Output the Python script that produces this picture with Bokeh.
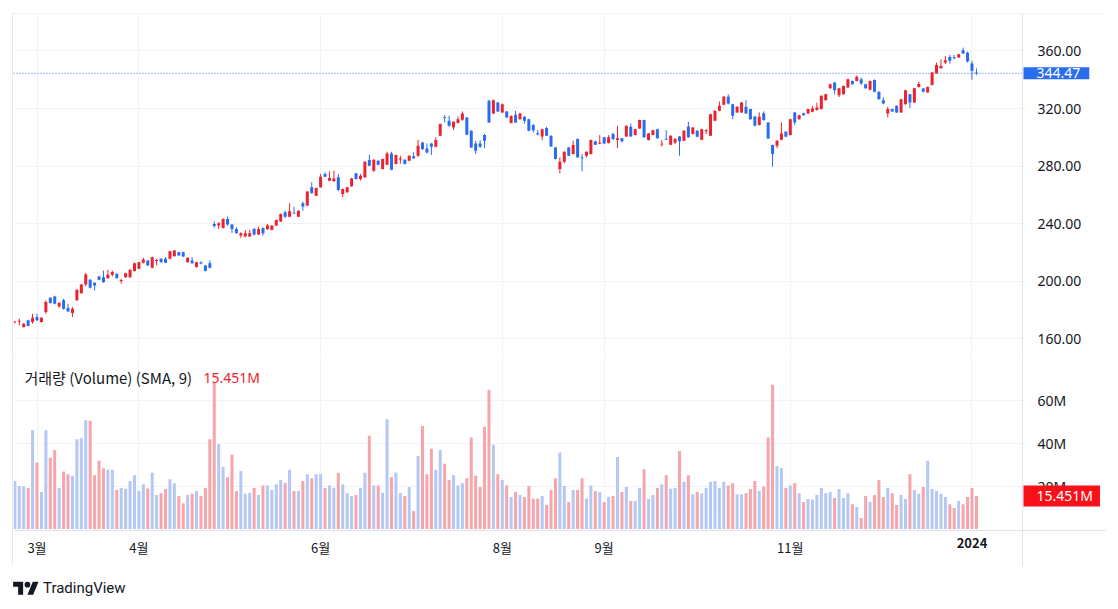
from bokeh.plotting import figure
from bokeh.models import (ColumnDataSource, FixedTicker, Range1d, Label, Span, Spacer, Div,
                          NumeralTickFormatter, PrintfTickFormatter, BoxAnnotation, LinearAxis)
from bokeh.layouts import column, row
from bokeh.embed import file_html
from bokeh.resources import INLINE

# ---------------- data (daily candles, Feb 22 2023 .. Jan 3 2024) ----------------
opens = [
    171.4, 172.2, 168.3, 172.9, 171.7, 175.2, 171.7, 178.7, 188.6, 189.5,
    182.6, 186.8, 181.4, 178.0, 186.8, 191.8, 197.8, 201.1, 199.0, 203.4,
    202.9, 202.2, 204.5, 205.2, 200.4, 202.9, 202.9, 207.1, 208.7, 212.9,
    214.5, 209.4, 214.3, 215.6, 215.6, 215.6, 217.5, 220.2, 220.2, 213.3,
    214.5, 209.9, 213.3, 211.0, 212.6, 239.8, 238.7, 237.1, 243.3, 239.4,
    236.4, 231.8, 231.1, 231.1, 236.4, 232.5, 237.1, 236.4, 235.7, 238.7,
    241.5, 248.0, 244.9, 247.5, 244.9, 254.2, 252.6, 265.3, 259.5, 265.3,
    274.5, 269.9, 269.5, 272.2, 260.7, 261.8, 266.0, 275.0, 271.1, 272.2,
    284.2, 276.8, 283.8, 278.0, 281.0, 288.8, 281.5, 284.8, 284.5, 283.8,
    286.8, 287.2, 296.5, 292.3, 295.8, 293.5, 301.1, 313.9, 311.5, 306.9,
    309.9, 312.2, 313.8, 304.6, 295.8, 295.8, 301.6, 325.4, 316.6, 324.2,
    317.3, 318.0, 310.0, 315.6, 312.6, 314.3, 312.6, 308.5, 302.8, 300.6,
    306.4, 301.1, 293.0, 278.0, 283.1, 293.0, 288.4, 298.8, 285.9, 287.2,
    288.4, 297.2, 295.5, 300.0, 296.0, 302.3, 298.1, 299.3, 300.6, 307.3,
    301.6, 306.2, 312.0, 298.1, 301.6, 305.7, 295.0, 298.8, 294.9, 296.5,
    300.6, 297.6, 307.6, 302.3, 304.6, 298.3, 304.4, 301.1, 311.5, 318.4,
    322.6, 328.1, 323.0, 317.3, 317.3, 321.2, 319.6, 314.5, 308.5, 316.8,
    310.3, 294.6, 294.2, 298.3, 303.9, 301.6, 317.3, 312.6, 316.8, 316.6,
    317.7, 318.9, 319.6, 325.8, 334.1, 338.0, 329.3, 330.0, 334.6, 339.2,
    339.2, 340.4, 336.9, 333.0, 339.9, 331.6, 325.8, 316.6, 319.6, 321.9,
    317.3, 323.0, 330.0, 324.2, 335.0, 333.9, 331.1, 336.4, 344.5, 348.0,
    351.9, 355.8, 355.4, 355.4, 360.5, 358.8, 351.3, 344.98,
]
highs = [
    172.5, 174.0, 171.0, 173.3, 177.5, 177.5, 175.0, 186.8, 189.0, 190.0,
    185.4, 187.9, 184.4, 182.1, 194.5, 198.2, 205.9, 201.5, 199.4, 203.8,
    207.5, 208.0, 207.5, 205.5, 201.8, 206.0, 208.4, 213.0, 213.6, 216.3,
    214.8, 217.1, 215.6, 216.0, 216.8, 221.2, 221.7, 220.5, 220.6, 216.6,
    216.8, 213.6, 213.8, 211.3, 214.5, 241.7, 241.0, 243.8, 244.9, 239.8,
    237.6, 234.1, 235.7, 235.7, 237.1, 238.0, 237.4, 239.9, 239.0, 242.9,
    247.1, 249.1, 254.2, 251.9, 249.4, 255.4, 262.6, 268.8, 265.1, 274.6,
    275.7, 276.4, 276.8, 274.5, 264.4, 265.6, 271.8, 275.3, 274.5, 283.4,
    287.9, 284.8, 284.1, 285.2, 290.0, 290.0, 288.0, 287.2, 284.8, 287.5,
    289.6, 298.1, 296.8, 295.8, 296.1, 300.0, 309.5, 315.6, 315.0, 311.1,
    314.5, 318.0, 314.1, 304.9, 297.6, 298.1, 302.3, 326.0, 326.2, 324.5,
    323.5, 318.3, 315.3, 318.4, 317.0, 314.6, 312.9, 309.2, 305.0, 306.0,
    307.3, 301.4, 293.3, 286.1, 290.3, 293.3, 297.6, 299.1, 288.4, 290.3,
    298.4, 297.5, 301.6, 300.3, 301.6, 303.4, 308.0, 299.6, 308.3, 309.6,
    306.0, 312.3, 312.3, 303.0, 305.3, 306.0, 298.1, 305.0, 301.4, 299.5,
    300.9, 304.9, 310.8, 307.2, 304.9, 306.0, 305.8, 316.4, 318.7, 324.9,
    328.8, 329.9, 323.3, 321.5, 324.5, 325.8, 319.9, 314.8, 317.3, 318.0,
    310.6, 294.9, 298.0, 310.3, 304.2, 312.9, 317.6, 315.7, 317.1, 319.9,
    321.9, 324.0, 329.1, 330.3, 337.2, 338.3, 334.4, 336.0, 340.7, 339.5,
    342.9, 341.5, 337.2, 339.5, 340.2, 331.9, 327.7, 321.2, 319.9, 322.2,
    326.8, 333.0, 330.3, 334.4, 338.7, 334.2, 335.3, 345.3, 351.9, 354.2,
    356.5, 357.2, 357.2, 358.0, 362.3, 359.5, 353.2, 347.9,
]
lows = [
    170.9, 169.4, 167.9, 168.8, 170.6, 172.4, 171.3, 177.5, 184.5, 184.0,
    181.7, 180.3, 179.0, 175.2, 186.5, 191.5, 196.5, 195.0, 193.7, 200.8,
    199.0, 201.8, 203.4, 202.0, 198.3, 202.5, 202.5, 206.8, 208.4, 212.4,
    210.7, 209.0, 211.0, 213.0, 212.7, 215.3, 217.3, 217.8, 216.9, 213.0,
    212.2, 209.6, 211.8, 206.9, 209.0, 237.1, 236.4, 236.8, 238.7, 233.6,
    233.1, 230.2, 230.6, 230.9, 231.8, 232.2, 231.8, 235.7, 235.4, 238.4,
    241.2, 244.0, 244.6, 246.8, 244.6, 249.1, 252.3, 260.7, 259.2, 265.0,
    272.4, 269.6, 269.2, 262.8, 258.5, 261.5, 265.7, 270.8, 270.0, 271.9,
    280.0, 276.0, 280.7, 277.7, 280.7, 277.2, 281.2, 281.7, 281.2, 283.5,
    285.1, 286.5, 291.2, 288.8, 287.7, 293.2, 300.8, 310.3, 307.3, 305.0,
    309.6, 311.5, 301.5, 292.7, 288.4, 292.6, 292.6, 310.0, 316.3, 317.7,
    317.0, 313.5, 309.6, 310.0, 312.3, 309.5, 304.3, 303.3, 301.3, 298.0,
    300.8, 293.4, 284.6, 275.0, 282.0, 286.9, 288.1, 285.8, 276.4, 286.1,
    288.1, 294.6, 295.2, 295.5, 295.7, 298.1, 292.6, 296.5, 300.3, 300.3,
    301.3, 305.9, 299.7, 297.8, 301.3, 299.0, 293.5, 298.3, 294.6, 295.3,
    287.2, 297.3, 299.7, 302.0, 300.1, 298.0, 302.2, 300.8, 311.2, 318.1,
    322.3, 322.8, 312.6, 317.0, 317.0, 316.3, 312.3, 307.7, 308.2, 311.5,
    298.9, 279.6, 292.5, 298.0, 300.1, 301.3, 308.5, 312.3, 315.1, 316.3,
    317.4, 318.6, 319.3, 325.5, 333.8, 329.9, 328.0, 329.7, 334.3, 336.6,
    338.9, 336.4, 333.8, 332.7, 331.3, 326.2, 323.0, 313.8, 317.7, 317.0,
    317.0, 322.7, 320.3, 323.9, 334.7, 331.3, 330.8, 336.1, 344.2, 347.7,
    350.8, 351.2, 354.2, 355.1, 357.9, 352.0, 340.0, 343.2,
]
closes = [
    171.9, 172.6, 170.6, 169.0, 174.7, 172.9, 174.7, 185.6, 184.9, 184.4,
    185.1, 181.0, 179.1, 181.0, 194.1, 197.8, 204.8, 195.5, 197.1, 201.1,
    199.4, 204.5, 206.4, 202.2, 200.8, 205.7, 208.0, 212.6, 213.3, 215.2,
    211.0, 216.8, 214.7, 213.3, 212.9, 220.9, 221.4, 218.0, 217.2, 216.3,
    212.6, 213.3, 212.3, 207.1, 209.4, 238.5, 240.3, 243.3, 239.4, 236.4,
    233.4, 233.4, 233.4, 233.4, 232.5, 236.4, 233.4, 238.7, 238.7, 242.6,
    246.8, 244.9, 248.7, 247.2, 249.1, 251.9, 262.3, 261.4, 264.8, 272.7,
    272.7, 271.8, 271.5, 263.4, 264.1, 265.3, 271.5, 271.1, 273.4, 283.1,
    280.3, 284.5, 281.0, 284.9, 288.8, 277.5, 287.7, 285.1, 281.5, 287.2,
    285.4, 294.2, 291.9, 289.5, 293.5, 298.1, 309.2, 313.5, 308.0, 310.8,
    312.6, 316.6, 301.8, 293.0, 290.7, 293.5, 297.6, 310.3, 325.8, 318.0,
    323.0, 313.8, 314.8, 310.3, 316.6, 311.5, 304.6, 305.0, 302.0, 305.7,
    301.1, 293.7, 284.9, 283.1, 290.0, 287.2, 294.6, 286.1, 285.6, 290.0,
    298.1, 294.9, 296.2, 295.8, 300.0, 298.8, 299.3, 297.2, 308.0, 300.6,
    305.7, 312.0, 300.0, 302.7, 305.0, 299.3, 295.5, 298.6, 301.1, 298.8,
    297.2, 304.6, 300.0, 306.9, 300.4, 305.7, 304.7, 316.1, 318.4, 321.9,
    328.1, 323.5, 315.0, 321.2, 324.2, 316.6, 312.6, 308.0, 314.3, 312.0,
    299.2, 288.4, 297.6, 302.7, 300.4, 312.6, 310.3, 315.4, 315.4, 319.6,
    320.0, 320.7, 328.8, 330.0, 336.9, 332.7, 334.1, 335.7, 340.4, 336.9,
    342.0, 337.4, 334.1, 339.2, 331.6, 326.5, 323.5, 319.6, 318.0, 317.3,
    326.5, 332.7, 324.2, 334.1, 337.0, 331.6, 335.0, 345.0, 350.3, 349.6,
    353.5, 353.1, 355.2, 357.7, 358.2, 352.6, 346.3, 344.47,
]
volumes_m = [
    22.4, 20.1, 19.8, 19.1, 46.1, 31.0, 17.3, 46.1, 33.3, 36.9,
    19.1, 26.8, 25.5, 24.8, 41.9, 42.4, 50.8, 50.5, 25.1, 31.8,
    28.4, 27.6, 27.6, 18.2, 19.1, 18.8, 22.4, 25.1, 17.7, 20.9,
    18.9, 26.2, 15.9, 16.7, 18.7, 23.2, 21.3, 15.4, 12.0, 15.9,
    16.4, 17.7, 15.4, 19.1, 41.9, 68.5, 39.6, 29.0, 24.1, 34.6,
    17.7, 27.1, 16.4, 16.8, 19.1, 15.9, 20.3, 20.3, 18.2, 20.9,
    22.9, 21.5, 27.6, 17.7, 17.7, 22.4, 25.5, 23.7, 25.5, 25.5,
    19.1, 20.3, 19.2, 26.2, 20.9, 16.8, 15.4, 15.9, 19.1, 26.2,
    43.5, 20.3, 20.3, 16.9, 51.2, 24.1, 26.2, 16.8, 15.4, 19.6,
    8.4, 34.1, 48.1, 25.5, 37.4, 27.6, 36.9, 30.4, 22.9, 25.1,
    20.3, 21.3, 23.7, 42.7, 24.8, 19.6, 47.7, 65.0, 39.3, 25.5,
    22.9, 20.3, 14.9, 17.3, 15.9, 14.9, 20.1, 14.2, 14.2, 15.4,
    11.2, 18.2, 23.7, 35.7, 20.1, 12.6, 18.2, 18.2, 23.7, 14.2,
    20.3, 17.7, 17.3, 12.6, 14.9, 15.4, 33.6, 17.3, 19.6, 13.1,
    13.1, 19.1, 27.9, 14.0, 15.9, 19.1, 20.9, 25.1, 18.8, 19.1,
    36.4, 22.1, 25.1, 16.2, 17.3, 16.7, 19.1, 22.1, 22.4, 19.1,
    22.1, 20.3, 21.3, 16.2, 16.2, 16.7, 18.7, 22.4, 17.7, 19.8,
    42.7, 67.3, 29.4, 28.5, 19.1, 20.3, 21.3, 16.7, 12.6, 14.0,
    13.6, 15.9, 19.1, 16.7, 17.3, 14.5, 18.7, 14.5, 16.7, 11.6,
    10.3, 5.1, 15.4, 12.6, 15.9, 22.9, 14.9, 19.1, 16.7, 11.2,
    15.9, 14.0, 25.5, 18.2, 16.4, 19.6, 31.8, 18.7, 17.7, 16.4,
    14.9, 11.6, 9.8, 13.1, 11.6, 14.9, 19.1, 15.451,
]
month_ticks = [5, 28, 69, 110, 133, 175]
month_labels = ["3월", "4월", "6월", "8월", "9월", "11월"]
year_ticks = [216]
year_labels = ["2024"]
price_ticks = [160, 200, 240, 280, 320, 360]
volume_ticks_m = [20, 40, 60]
last_close = 344.47
last_volume_text = "15.451M"

# ---------------- styles ----------------
UP = "#ea2330"
DOWN = "#2a6cf0"
VOL_UP_BAR = "#b4c8f5"     # volume pane colours are the inverse of the candles
VOL_DOWN_BAR = "#f6a5aa"
VOL_TAG = "#f90f18"
GRID = "#f0f3fa"
BORDER = "#e0e3eb"
TEXT = "#131722"
FONT = "Noto Sans"
KFONT = "Noto Sans CJK KR"

n = len(closes)
xs = list(range(n))
is_up = [c >= o for o, c in zip(opens, closes)]
tops, bots = [], []
for o, c in zip(opens, closes):
    t, b = max(o, c), min(o, c)
    if t - b < 0.6:
        m = (t + b) / 2
        t, b = m + 0.3, m - 0.3
    tops.append(t)
    bots.append(b)

src = ColumnDataSource(dict(
    x=xs, h=highs, l=lows, top=tops, bot=bots, vol=volumes_m,
    color=[UP if u else DOWN for u in is_up],
    vcolor=[VOL_UP_BAR if u else VOL_DOWN_BAR for u in is_up],
))

X_START = -0.305
X_AXIS = 227.4          # where the price scale column starts
X_END = 246.36
xr = Range1d(X_START, X_END)
V_AXIS = -0.70          # volume value at the top of the time scale row
all_ticks = month_ticks + year_ticks


def style_price_axis(ax, ticks, formatter):
    ax.ticker = FixedTicker(ticks=ticks)
    ax.formatter = formatter
    ax.fixed_location = X_AXIS
    ax.axis_line_color = BORDER
    ax.major_tick_line_color = None
    ax.minor_tick_line_color = None
    ax.major_label_standoff = 9
    ax.major_label_text_font = FONT
    ax.major_label_text_font_size = "14px"
    ax.major_label_text_color = TEXT


def style_time_axis(ax, ticks, labels, bold):
    ax.ticker = FixedTicker(ticks=ticks)
    ax.major_label_overrides = {t: s for t, s in zip(ticks, labels)}
    ax.fixed_location = V_AXIS
    ax.axis_line_color = BORDER
    ax.major_tick_line_color = None
    ax.minor_tick_line_color = None
    ax.major_label_standoff = 1
    ax.major_label_text_font = KFONT
    ax.major_label_text_font_size = "13px"
    ax.major_label_text_color = TEXT
    ax.major_label_text_font_style = "bold" if bold else "normal"


# ---------------- price pane ----------------
p1 = figure(width=1094, height=343, x_range=xr, y_range=Range1d(147.8, 386.0),
            y_axis_location="right", x_axis_location=None,
            toolbar_location=None, tools="", output_backend="svg",
            min_border_left=1, min_border_right=0, min_border_top=0, min_border_bottom=0)
p1.outline_line_color = None
p1.background_fill_color = "white"
p1.border_fill_color = "white"
p1.styles = {"outline": "1px solid " + BORDER, "outline-offset": "-1px"}

p1.xgrid.ticker = FixedTicker(ticks=all_ticks)
p1.xgrid.grid_line_color = GRID
p1.ygrid.ticker = FixedTicker(ticks=price_ticks)
p1.ygrid.grid_line_color = GRID

style_price_axis(p1.yaxis[0], price_ticks, NumeralTickFormatter(format="0.00"))

p1.segment(x0="x", y0="h", x1="x", y1="l", line_color="color", line_width=1, source=src)
p1.vbar(x="x", width=0.68, top="top", bottom="bot", fill_color="color", line_color=None, source=src)

p1.add_layout(Span(location=last_close, dimension="width", line_color=DOWN,
                   line_dash="1 2", line_width=1, level="underlay"))
p1.add_layout(BoxAnnotation(left=X_AXIS, fill_color="white", fill_alpha=1.0,
                            line_color=None, level="glyph"))
p1.add_layout(Label(x=X_AXIS, y=last_close, x_offset=1, x_units="data", y_units="data",
                    text=f"{last_close:.2f}", text_color="white", text_font=FONT,
                    text_font_size="14px", text_baseline="middle", text_align="left",
                    background_fill_color=DOWN,
                    padding=dict(left=13, right=9, top=1, bottom=1)))

# ---------------- volume pane (with time scale row) ----------------
p2 = figure(width=1094, height=210, x_range=xr, y_range=Range1d(-17.50, 80.5),
            y_axis_location="right", toolbar_location=None, tools="", output_backend="svg",
            min_border_left=1, min_border_right=0, min_border_top=0, min_border_bottom=0)
p2.outline_line_color = None
p2.background_fill_color = "white"
p2.border_fill_color = "white"
p2.styles = {"outline": "1px solid " + BORDER, "outline-offset": "-1px",
             "clip-path": "inset(1px 0 0 0)"}

p2.xgrid.ticker = FixedTicker(ticks=all_ticks)
p2.xgrid.grid_line_color = GRID
p2.ygrid.ticker = FixedTicker(ticks=volume_ticks_m)
p2.ygrid.grid_line_color = GRID

style_time_axis(p2.xaxis[0], month_ticks, month_labels, bold=False)
year_axis = LinearAxis()
style_time_axis(year_axis, year_ticks, year_labels, bold=True)
year_axis.axis_line_color = None
p2.add_layout(year_axis, "below")

style_price_axis(p2.yaxis[0], volume_ticks_m, PrintfTickFormatter(format="%dM"))

p2.vbar(x="x", width=0.68, top="vol", bottom=0, fill_color="vcolor", line_color=None, source=src)
p2.add_layout(BoxAnnotation(left=X_AXIS, fill_color="white", fill_alpha=1.0,
                            line_color=None, level="glyph"))
p2.add_layout(BoxAnnotation(top=V_AXIS, fill_color="white", fill_alpha=1.0,
                            line_color=None, level="glyph"))

p2.add_layout(Label(x=11, y=189, x_units="screen", y_units="screen",
                    text="거래량 (Volume) (SMA, 9)", text_color=TEXT, text_font=KFONT,
                    text_font_size="15px", text_baseline="middle"))
p2.add_layout(Label(x=190, y=189, x_units="screen", y_units="screen",
                    text=last_volume_text, text_color=UP, text_font=FONT,
                    text_font_size="14px", text_baseline="middle"))
p2.add_layout(Label(x=X_AXIS, y=volumes_m[-1], x_offset=1, x_units="data", y_units="data",
                    text=last_volume_text, text_color="white", text_font=FONT,
                    text_font_size="14px", text_baseline="middle", text_align="left",
                    background_fill_color=VOL_TAG,
                    padding=dict(left=13, right=7, top=1, bottom=1)))

logo = ('<svg width="26" height="20" viewBox="0 0 36 28" style="display:block">'
        '<path d="M14 22H7V11H0V4h14v18zM28 22h-8l7.5-18h8L28 22z" fill="#131722"/>'
        '<circle cx="20" cy="8" r="4" fill="#131722"/></svg>')
footer = Div(text=('<div style="display:flex;align-items:center;gap:4px;padding-top:7px;'
                   'margin-left:-4px;font-family:Roboto, sans-serif;font-size:15px;color:#131722">'
                   + logo + '<span>TradingView</span></div>'),
             width=300, height=36)

layout = row(Spacer(width=12), column(Spacer(height=13), p1, p2, footer))

open("out.html", "w").write(file_html(layout, INLINE))
